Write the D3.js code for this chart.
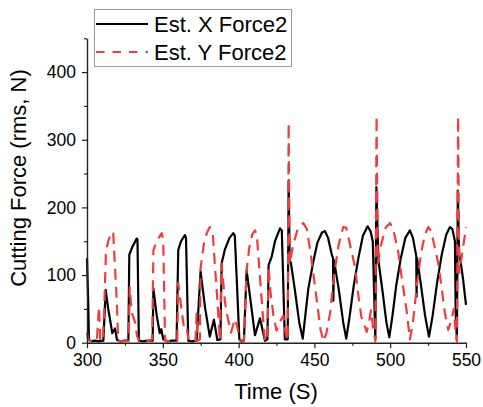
<!DOCTYPE html>
<html>
<head>
<meta charset="utf-8">
<script src="https://cdn.jsdelivr.net/npm/d3@7"></script>
<style>
  html, body { margin: 0; padding: 0; background: #fff; }
  svg { display: block; font-family: "Liberation Sans", Arial, sans-serif; }
</style>
</head>
<body>
<svg id="chart" width="483" height="407"></svg>
<script>
// ---------- data ----------
const seriesNames = ["Est. X Force2", "Est. Y Force2"];
const xTicks = [300, 350, 400, 450, 500, 550];
const xMinorTicks = [325, 375, 425, 475, 525];
const yTicks = [0, 100, 200, 300, 400];
const yMinorTicks = [50, 150, 250, 350, 450];

const xForceTime = [300, 300.8, 301.3, 303, 305, 308, 310.8, 312.3, 314, 316.7, 318.5, 319.8, 322, 325, 327.3,
  327.9, 330, 332.8, 333.3, 334.2, 337, 340, 343.3, 343.8, 346, 348, 349, 350.3, 353, 356, 359.1,
  360.2, 362, 364.6, 365.3, 366.8, 369, 372.3, 374.9, 378, 381, 383.7, 386, 388, 388.8, 391, 394,
  396.5, 397.5, 400.5, 402, 403.5, 405.3, 408, 410.8, 414.1, 417.4, 419, 419.8, 421.8, 424, 427.3,
  428.5, 430.5, 432.4, 433, 433.7, 434.5, 437, 440, 442.3, 444, 446, 449.3, 452, 455, 457, 459,
  461.5, 462.3, 462.5, 462.9, 466, 469, 471, 473, 476, 479, 482, 485.1, 487, 488.5, 490.2, 490.9,
  492.2, 495, 497.5, 499.4, 501.5, 504, 507, 510, 513, 515, 517.2, 517.4, 517.7, 520, 523, 525.6,
  528, 531, 534, 537, 539.4, 541, 542.7, 543.2, 544, 544.6, 545.5, 546, 548, 550];
const xForceValue = [125, 60, 4, 2, 3, 2, 3, 78, 50, 14, 21, 4, 2, 3, 3,
  130, 142, 154, 152, 3, 2, 3, 3, 80, 40, 14, 20, 5, 2, 3, 3,
  137, 150, 159, 155, 3, 2, 3, 105, 50, 9, 34, 4, 5, 117, 138, 155,
  162, 158, 5, 2, 3, 107, 60, 11, 36, 3, 5, 115, 127, 150, 169,
  166, 5, 5, 240, 122, 118, 80, 30, 6, 40, 80, 120, 148, 163, 165, 155,
  130, 125, 62, 122, 80, 30, 6, 35, 85, 125, 158, 172, 165, 150, 5, 230,
  122, 75, 30, 8, 40, 85, 125, 155, 166, 155, 128, 68, 125, 90, 40, 9,
  40, 90, 130, 160, 171, 168, 150, 44, 3, 225, 130, 127, 95, 56];

const yForceTime = [300, 300.8, 302, 304, 306.5, 307.9, 308.8, 310.5, 311.5, 312.5, 314, 316.3, 317.3, 319.6,
  320.6, 323, 325, 327.5, 328.2, 329.5, 331.7, 333, 334.5, 338, 341, 343, 343.8, 346, 349.3, 350.3,
  351.5, 354, 357, 359.5, 360.2, 362.4, 364, 365.7, 367, 370, 371.6, 372.3, 373, 374.5, 374.9, 377,
  379, 381, 383, 384.5, 386, 387.6, 388.8, 389.5, 391, 393, 395, 397.5, 399, 401, 403.5, 405.3,
  407, 409, 410.8, 412, 414.1, 416, 417.4, 419, 419.8, 421, 423, 425, 427, 429.5, 431, 432.4, 433,
  433.7, 436, 439, 442.7, 445, 447, 449.3, 452, 454, 456, 458, 460.3, 463, 466, 469, 471, 473,
  476.8, 479, 481, 484.5, 486, 487.3, 488.5, 490.2, 491, 491.8, 494, 497, 499.9, 502, 505.3, 508,
  510.8, 513, 515, 518.5, 521, 523, 525.1, 527, 529, 531.7, 534, 536, 538.3, 540.5, 542, 543.2,
  544, 544.8, 545.5, 547, 549, 550];
const yForceValue = [15, 5, 3, 2, 3, 53, 3, 3, 60, 135, 150, 164, 162, 63,
  3, 2, 3, 3, 82, 45, 30, 10, 3, 2, 3, 5, 137, 150, 162, 150,
  3, 2, 3, 3, 88, 48, 22, 24, 3, 2, 3, 43, 3, 5, 110, 145,
  162, 171, 160, 110, 63, 3, 117, 100, 60, 35, 15, 35, 25, 3, 3, 107,
  140, 160, 166, 160, 97, 40, 3, 3, 112, 75, 40, 18, 30, 40, 15, 3, 325,
  117, 145, 168, 177, 168, 140, 102, 55, 20, 2, 15, 43, 100, 145, 171, 170, 150,
  112, 70, 38, 16, 30, 48, 25, 2, 335, 117, 145, 170, 177, 168, 134, 90,
  48, 5, 30, 103, 140, 160, 171, 165, 145, 117, 80, 45, 19, 35, 50, 15,
  2, 335, 103, 125, 155, 171];

// ---------- layout ----------
const svg = d3.select("#chart");
const x = d3.scaleLinear().domain([300, 550]).range([87, 466]);
const y = d3.scaleLinear().domain([0, 450]).range([342.7, 38.3]);
const black = "#000000";
const red = "#f03c41";

const toPts = (ts, vs) => ts.map((t, i) => [t, vs[i]]);
const line = d3.line().x(d => x(d[0])).y(d => y(d[1]));

// series: black first, red dashed on top
svg.append("path")
  .datum(toPts(xForceTime, xForceValue))
  .attr("d", line)
  .attr("fill", "none")
  .attr("stroke", black)
  .attr("stroke-width", 2.2)
  .attr("stroke-linejoin", "round");

svg.append("path")
  .datum(toPts(yForceTime, yForceValue))
  .attr("d", line)
  .attr("fill", "none")
  .attr("stroke", red)
  .attr("stroke-width", 2.2)
  .attr("stroke-dasharray", "11,7")
  .attr("stroke-linejoin", "round");

// ---------- axes ----------
function styleAxis(g) {
  g.select(".domain").attr("stroke", "#222").attr("stroke-width", 1.4);
  g.selectAll(".tick line").attr("stroke", "#222").attr("stroke-width", 1.2);
  g.selectAll(".tick text").attr("fill", "#000").style("font-size", "17.5px")
    .style("font-family", "'Liberation Sans', Arial, sans-serif");
}

const gx = svg.append("g").attr("transform", `translate(0,${y(0)})`)
  .call(d3.axisBottom(x).tickValues(xTicks).tickSize(5.5).tickSizeOuter(0).tickPadding(5.5).tickFormat(d3.format("d")));
styleAxis(gx);
const gxm = svg.append("g").attr("transform", `translate(0,${y(0)})`)
  .call(d3.axisBottom(x).tickValues(xMinorTicks).tickSize(3).tickSizeOuter(0).tickFormat(""));
styleAxis(gxm);
gxm.select(".domain").remove();

const gy = svg.append("g").attr("transform", `translate(${x(300)},0)`)
  .call(d3.axisLeft(y).tickValues(yTicks).tickSize(5).tickSizeOuter(0).tickPadding(6).tickFormat(d3.format("d")));
styleAxis(gy);
const gym = svg.append("g").attr("transform", `translate(${x(300)},0)`)
  .call(d3.axisLeft(y).tickValues(yMinorTicks).tickSize(3).tickSizeOuter(0).tickFormat(""));
styleAxis(gym);
gym.select(".domain").remove();

// axis titles
svg.append("text")
  .attr("x", 276).attr("y", 399)
  .attr("text-anchor", "middle")
  .style("font-size", "22px")
  .text("Time (S)");

svg.append("text")
  .attr("transform", "translate(26,178) rotate(-90)")
  .attr("text-anchor", "middle")
  .style("font-size", "22px")
  .text("Cutting Force (rms, N)");

// ---------- legend ----------
const lg = svg.append("g");
lg.append("rect")
  .attr("x", 94.5).attr("y", 9.5).attr("width", 197).attr("height", 57)
  .attr("fill", "#fff").attr("stroke", "#9a9a9a").attr("stroke-width", 1);
const legendStyles = [{ c: black, dash: null }, { c: red, dash: "8.5,8" }];
seriesNames.forEach((name, i) => {
  const cy = 24 + i * 28;
  lg.append("line")
    .attr("x1", 96).attr("x2", 148).attr("y1", cy).attr("y2", cy)
    .attr("stroke", legendStyles[i].c).attr("stroke-width", 2.2)
    .attr("stroke-dasharray", legendStyles[i].dash);
  lg.append("text")
    .attr("x", 154).attr("y", cy + 8)
    .style("font-size", "22px")
    .text(name);
});
</script>
</body>
</html>
